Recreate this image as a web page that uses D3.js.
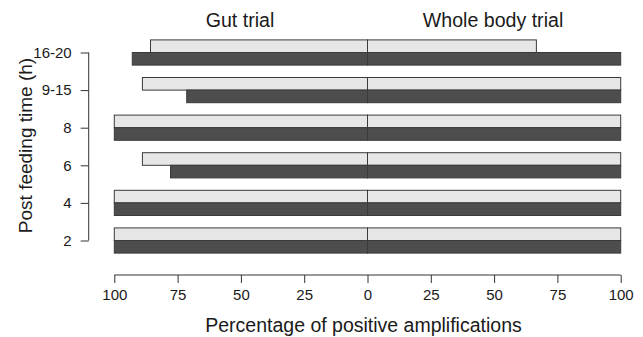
<!DOCTYPE html>
<html>
<head>
<meta charset="utf-8" />
<script src="https://d3js.org/d3.v7.min.js"></script>
<style>
  body { margin: 0; background: #fff; }
  svg text { font-family: "Liberation Sans", Arial, sans-serif; fill: #1a1a1a; }
</style>
</head>
<body>
<svg id="chart" width="643" height="337"></svg>
<script>
// post feeding time groups, bottom to top
var times = ["2", "4", "6", "8", "9-15", "16-20"];
// percentages, light = first series, dark = second series
var gutLight   = [100, 100, 88.9, 100, 88.9, 85.7];
var gutDark    = [100, 100, 77.8, 100, 71.4, 92.9];
var wholeLight = [100, 100, 100, 100, 100, 66.7];
var wholeDark  = [100, 100, 100, 100, 100, 100];
var xTicks = [-100, -75, -50, -25, 0, 25, 50, 75, 100];

var svg = d3.select("#chart");

var x = d3.scaleLinear().domain([-100, 100]).range([114.3, 620.7]);
// group centres
var y = d3.scalePoint().domain(times).range([240.5, 52.5]);
var barH = 12.6;

var light = "#e6e6e6", dark = "#4d4d4d", edge = "#3a3a3a";

function bars(vals, sign, off, fill) {
  svg.append("g").selectAll("rect")
    .data(vals)
    .enter().append("rect")
      .attr("x", function(d) { return sign < 0 ? x(-d) : x(0); })
      .attr("y", function(d, i) { return y(times[i]) + off; })
      .attr("width", function(d) { return sign < 0 ? x(0) - x(-d) : x(d) - x(0); })
      .attr("height", barH)
      .attr("fill", fill)
      .attr("stroke", edge)
      .attr("stroke-width", 1);
}
bars(gutLight, -1, -barH, light);
bars(gutDark, -1, 0, dark);
bars(wholeLight, 1, -barH, light);
bars(wholeDark, 1, 0, dark);

// x axis
var xAxis = svg.append("g")
    .attr("transform", "translate(0,275)")
    .call(d3.axisBottom(x).tickValues(xTicks).tickSize(8).tickPadding(6)
      .tickFormat(function(d) { return Math.abs(d); }));
xAxis.select(".domain").attr("d", "M" + x(-100) + ",0H" + x(100)).attr("stroke", "#333");
xAxis.selectAll(".tick line").attr("stroke", "#333");
xAxis.selectAll("text").attr("font-size", 15).attr("fill", "#1a1a1a");

// y axis
var yAxis = svg.append("g")
    .attr("transform", "translate(88.7,0)")
    .call(d3.axisLeft(y).tickSize(8).tickPadding(9));
yAxis.select(".domain").attr("d", "M0," + y("2") + "V" + y("16-20")).attr("stroke", "#333");
yAxis.selectAll(".tick line").attr("stroke", "#333");
yAxis.selectAll("text").attr("font-size", 15).attr("fill", "#1a1a1a");

// titles
svg.append("text").attr("x", 240).attr("y", 26.7).attr("text-anchor", "middle")
  .attr("font-size", 19.6).text("Gut trial");
svg.append("text").attr("x", 493).attr("y", 26.7).attr("text-anchor", "middle")
  .attr("font-size", 19.6).text("Whole body trial");
svg.append("text").attr("x", 363.5).attr("y", 332.3).attr("text-anchor", "middle")
  .attr("font-size", 19.5).text("Percentage of positive amplifications");
svg.append("text").attr("transform", "translate(32,145.5) rotate(-90)").attr("text-anchor", "middle")
  .attr("font-size", 19).text("Post feeding time (h)");
</script>
</body>
</html>
